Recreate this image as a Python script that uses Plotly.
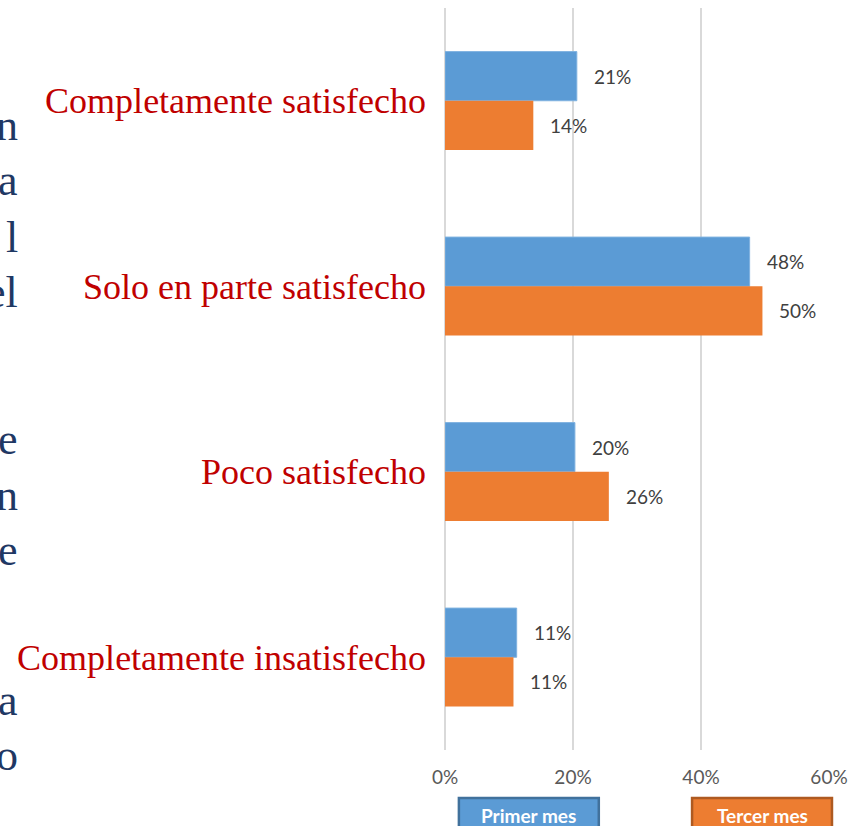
import plotly.graph_objects as go

categories = ["Completamente satisfecho", "Solo en parte satisfecho", "Poco satisfecho", "Completamente insatisfecho"]
primer_mes = [0.206, 0.476, 0.203, 0.112]
tercer_mes = [0.138, 0.496, 0.256, 0.107]
series_names = ["Primer mes", "Tercer mes"]
tick_vals = [0, 0.2, 0.4, 0.6]
tick_text = ["0%", "20%", "40%", "60%"]
side_letters = ["n", "a", "l", "el", "e", "n", "e", "a", "o"]
side_letter_y = [125, 180, 237, 292, 440, 495, 550, 700, 755]

BLUE = "#5B9BD5"
ORANGE = "#ED7D31"
W, H = 856, 826
ML, MR, MT, MB = 445, 24, 8, 76
pw = W - ML - MR
ph = H - MT - MB


def px_x(p):
    return (p - ML) / pw


def px_y(p):
    return (H - MB - p) / ph


fig = go.Figure()
fig.add_trace(go.Bar(y=categories, x=primer_mes, orientation="h", name=series_names[0],
                     marker=dict(color=BLUE, line=dict(color="#7FB2E0", width=1))))
fig.add_trace(go.Bar(y=categories, x=tercer_mes, orientation="h", name=series_names[1],
                     marker=dict(color=ORANGE, line=dict(color=ORANGE, width=0))))

annotations = []
for vals, shift in [(primer_mes, -24.5), (tercer_mes, 24.5)]:
    for c, v in zip(categories, vals):
        annotations.append(dict(x=v, y=c, xref="x", yref="y", text=f"{round(v*100)}%",
                                showarrow=False, xanchor="left", xshift=15, yshift=-shift,
                                font=dict(family="Lato, Open Sans, sans-serif", size=19, color="#404040")))

for t, yy in zip(side_letters, side_letter_y):
    annotations.append(dict(x=px_x(17), y=px_y(yy), xref="paper", yref="paper", text=t,
                            showarrow=False, xanchor="right", yanchor="middle",
                            font=dict(family="Liberation Serif, serif", size=44, color="#1F3864")))

shapes = []
for name, color, border, x0, x1 in [(series_names[0], BLUE, "#41719C", 459, 600), (series_names[1], ORANGE, "#AE5A21", 694, 835)]:
    shapes.append(dict(type="rect", xref="paper", yref="paper", x0=px_x(x0), x1=px_x(x1),
                       y0=px_y(830), y1=px_y(798), fillcolor=color, line=dict(color=border, width=2.5)))
    annotations.append(dict(x=px_x((x0 + x1) / 2), y=px_y(815), xref="paper", yref="paper",
                            text=f"<b>{name}</b>",
                            showarrow=False, xanchor="center", yanchor="middle",
                            font=dict(family="Lato, Open Sans, sans-serif", size=19, color="white")))

fig.update_layout(
    width=W, height=H, margin=dict(l=ML, r=MR, t=MT, b=MB),
    plot_bgcolor="white", paper_bgcolor="white",
    barmode="group", bargap=0.47, bargroupgap=0,
    showlegend=False,
    annotations=annotations, shapes=shapes,
    xaxis=dict(range=[0, 0.6], tickvals=tick_vals, ticktext=tick_text,
               showgrid=True, gridcolor="#D9D9D9", gridwidth=2,
               zeroline=True, zerolinecolor="#D9D9D9", zerolinewidth=2,
               showline=False, ticks="", ticklabelstandoff=14,
               tickfont=dict(family="Lato, Open Sans, sans-serif", size=19, color="#595959")),
    yaxis=dict(autorange="reversed", showgrid=False, showline=False, ticks="",
               ticklabelstandoff=18,
               tickfont=dict(family="Liberation Serif, serif", size=36, color="#C00000")),
)
fig.write_html("out.html")
